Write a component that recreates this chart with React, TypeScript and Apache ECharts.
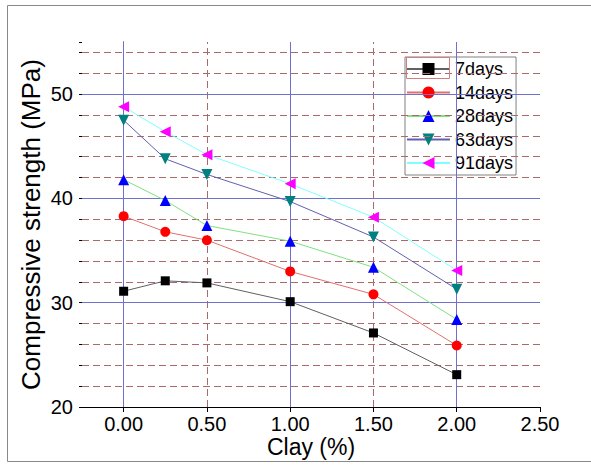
import React, { useEffect, useRef } from "react";
import * as echarts from "echarts";

const clay = [0, 0.25, 0.5, 1.0, 1.5, 2.0];
const d7 = [31.1, 32.1, 31.9, 30.1, 27.1, 23.1];
const d14 = [38.3, 36.8, 36.0, 33.0, 30.8, 25.9];
const d28 = [41.8, 39.8, 37.4, 35.9, 33.4, 28.4];
const d63 = [47.5, 43.8, 42.3, 39.7, 36.3, 31.3];
const d91 = [48.8, 46.4, 44.2, 41.4, 38.2, 33.1];
const seriesNames = ["7days", "14days", "28days", "63days", "91days"];

const xTicks = [0, 0.5, 1.0, 1.5, 2.0, 2.5];
const xMajorGrid = [0, 1, 2];
const xMinorGrid = [0.5, 1.5];
const yMajorGrid = [30, 40, 50];
const yMinorGrid = [22, 24, 26, 28, 32, 34, 36, 38, 42, 44, 46, 48, 52, 54];

const FONT = "Arial, 'Liberation Sans', sans-serif";

export default function App() {
  const ref = useRef<HTMLDivElement>(null);
  useEffect(() => {
    if (!ref.current) return;
    const chart = echarts.init(ref.current, null, { renderer: "svg" });
    const pts = (ys: number[]) => clay.map((x, i) => [x, ys[i]]);
    const mk = (
      name: string,
      ys: number[],
      sym: string,
      size: number,
      rot: number,
      symColor: string,
      lineColor: string
    ) => ({
      name,
      type: "line",
      data: pts(ys),
      symbol: sym,
      symbolSize: size,
      symbolRotate: rot,
      z: 5,
      itemStyle: { color: symColor },
      lineStyle: { color: lineColor, width: 1 },
    });
    const solid = { color: "#7070d0", width: 1, type: "solid" };
    const dashed = { color: "#a86a6a", width: 1, type: [7, 4] };
    const option = {
      animation: false,
      backgroundColor: "#ffffff",
      textStyle: { fontFamily: FONT },
      grid: { left: 82, right: 51, top: 42, bottom: 63 },
      legend: {
        orient: "vertical",
        left: 405,
        top: 57,
        data: seriesNames,
        itemWidth: 43,
        itemHeight: 15,
        itemGap: 5.5,
        padding: [3, 3, 3, 1],
        backgroundColor: "#ffffff",
        borderColor: "#808080",
        borderWidth: 1,
        borderRadius: 0,
        textStyle: { fontSize: 18, color: "#000", fontFamily: FONT },
      },
      xAxis: {
        type: "value",
        min: -0.25,
        max: 2.5,
        name: "Clay (%)",
        nameLocation: "middle",
        nameGap: 28.5,
        nameMoveOverlap: false,
        nameTextStyle: { fontSize: 23, lineHeight: 23, color: "#000", fontFamily: FONT },
        axisLine: { show: true, lineStyle: { color: "#000", width: 1 } },
        axisTick: {
          show: true,
          length: 5,
          customValues: xTicks,
          lineStyle: { color: "#000" },
        },
        axisLabel: {
          customValues: xTicks,
          fontSize: 20,
          lineHeight: 18,
          color: "#000",
          margin: 8,
          fontFamily: FONT,
          formatter: (v: number) => v.toFixed(2),
        },
        splitLine: { show: false },
      },
      yAxis: [
        {
          type: "value",
          min: 20,
          max: 55,
          interval: 10,
          name: "Compressive strength (MPa)",
          nameLocation: "middle",
          nameGap: 38,
          nameMoveOverlap: false,
          nameTextStyle: { fontSize: 26, color: "#000", fontFamily: FONT },
          axisLine: { show: true, lineStyle: { color: "#000", width: 1 } },
          axisTick: { show: true, length: 6, lineStyle: { color: "#000" } },
          axisLabel: {
            fontSize: 20,
            color: "#000",
            margin: 9,
            fontFamily: FONT,
            showMaxLabel: false,
          },
          splitLine: { show: false },
        },
        {
          type: "value",
          min: 20,
          max: 55,
          interval: 2,
          position: "left",
          axisLine: { show: false },
          axisTick: { show: true, length: 3, lineStyle: { color: "#000" } },
          axisLabel: { show: false },
          splitLine: { show: false },
        },
      ],
      series: [
        {
          name: "grid",
          type: "line",
          data: [],
          z: 1,
          silent: true,
          markLine: {
            silent: true,
            symbol: "none",
            label: { show: false },
            animation: false,
            data: [
              ...yMinorGrid.map((v) => ({ yAxis: v, lineStyle: dashed })),
              ...xMinorGrid.map((v) => ({ xAxis: v, lineStyle: dashed })),
              ...yMajorGrid.map((v) => ({ yAxis: v, lineStyle: solid })),
              ...xMajorGrid.map((v) => ({ xAxis: v, lineStyle: solid })),
            ],
          },
        },
        mk("7days", d7, "rect", 9, 0, "#000000", "#606060"),
        mk("14days", d14, "circle", 10, 0, "#ff0000", "#e07070"),
        mk("28days", d28, "triangle", 11, 0, "#0000ff", "#80e080"),
        mk("63days", d63, "triangle", 11, 180, "#008080", "#6060b0"),
        mk("91days", d91, "triangle", 11, 90, "#ff00ff", "#80ffff"),
      ],
      graphic: [
        {
          type: "rect",
          shape: { x: 7.5, y: 5.5, width: 620, height: 456 },
          style: { fill: "none", stroke: "#888888", lineWidth: 1 },
          silent: true,
          z: 0,
        },
        {
          type: "rect",
          shape: { x: 406.5, y: 57.5, width: 43, height: 21 },
          style: { fill: "none", stroke: "#d08080", lineWidth: 1 },
          silent: true,
          z: 100,
        },
      ],
    };
    chart.setOption(option as any);
    return () => chart.dispose();
  }, []);
  return (
    <div
      ref={ref}
      style={{ position: "fixed", left: 0, top: 0, width: 591, height: 470 }}
    />
  );
}
